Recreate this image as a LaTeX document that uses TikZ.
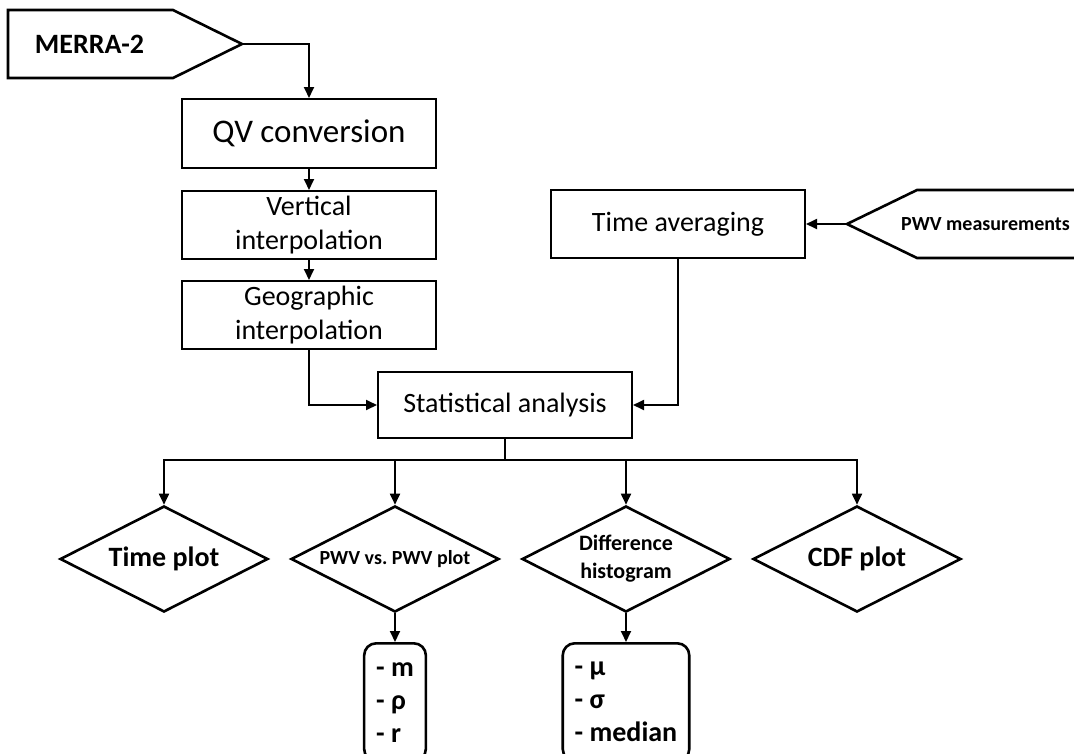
\documentclass[tikz,border=0pt]{standalone}
\usepackage{fontspec}
\setmainfont{Carlito}
\usetikzlibrary{arrows.meta,shapes.geometric}

\begin{document}
\begin{tikzpicture}[x=1pt,y=-1pt,
    box/.style={draw,line width=2pt,minimum width=254pt,minimum height=68pt,inner sep=0pt,align=center,font=\fontsize{28}{34}\selectfont},
    choice/.style={draw,diamond,line width=2.6pt,aspect=1.96,minimum width=208pt,minimum height=106pt,inner sep=0pt,align=center,font=\bfseries\fontsize{28}{34}\selectfont},
    result/.style={draw,rounded corners=12pt,line width=2.6pt,anchor=north,align=left,inner xsep=12pt,inner ysep=19pt,font=\bfseries\fontsize{28}{33}\selectfont},
    src/.style={line width=2.6pt,line join=miter},
    arr/.style={line width=1.8pt,-{Triangle[length=11pt,width=10pt]}}]
    \path[use as bounding box,clip] (0,0) rectangle (1074,753);

    % inputs
    \draw[src] (8,10) -- (173,10) -- (242,44) coordinate (mtip) -- (173,78) -- (8,78) -- cycle;
    \node[font=\bfseries\fontsize{28}{34}\selectfont] (merra) at (89.5,44) {MERRA-2};
    \draw[src] (1100,190) -- (917,190) -- (847,224) coordinate (ptip) -- (917,258) -- (1100,258);
    \node[font=\bfseries\fontsize{20}{24}\selectfont] (pwvm) at (985.5,224) {PWV measurements};

    % processing
    \node[box,minimum height=69pt,font=\fontsize{33}{40}\selectfont] (qv) at (309,133.5) {QV conversion};
    \node[box] (vert) at (309,225) {Vertical\\interpolation};
    \node[box] (geo) at (309,315) {Geographic\\interpolation};
    \node[box] (tavg) at (678,224) {Time averaging};
    \node[box,minimum height=66pt] (stat) at (505,405) {Statistical analysis};

    % outputs
    \node[choice] (tplot) at (164,559) {Time plot};
    \node[choice,font=\bfseries\fontsize{20}{24}\selectfont] (pplot) at (395,559) {PWV vs.\ PWV plot};
    \node[choice,font=\bfseries\fontsize{22}{28}\selectfont] (dhist) at (626,559) {Difference\\histogram};
    \node[choice] (cplot) at (857,559) {CDF plot};
    \node[result] (pstats) at (395,642) {- m\\- ρ\\- r};
    \node[result] (dstats) at (626,642) {- μ\\- σ\\- median};

    \draw[arr] (mtip) -| (qv);
    \draw[arr] (qv) -- (vert);
    \draw[arr] (vert) -- (geo);
    \draw[arr] (geo) |- (stat);
    \draw[arr] (ptip) -- (tavg);
    \draw[arr] (tavg) |- (stat);
    \coordinate (bus) at (505,460);
    \foreach \n in {tplot,pplot,dhist,cplot}
        \draw[arr] (stat) -- (bus) -| (\n);
    \draw[arr] (pplot) -- (pstats);
    \draw[arr] (dhist) -- (dstats);
\end{tikzpicture}
\end{document}
